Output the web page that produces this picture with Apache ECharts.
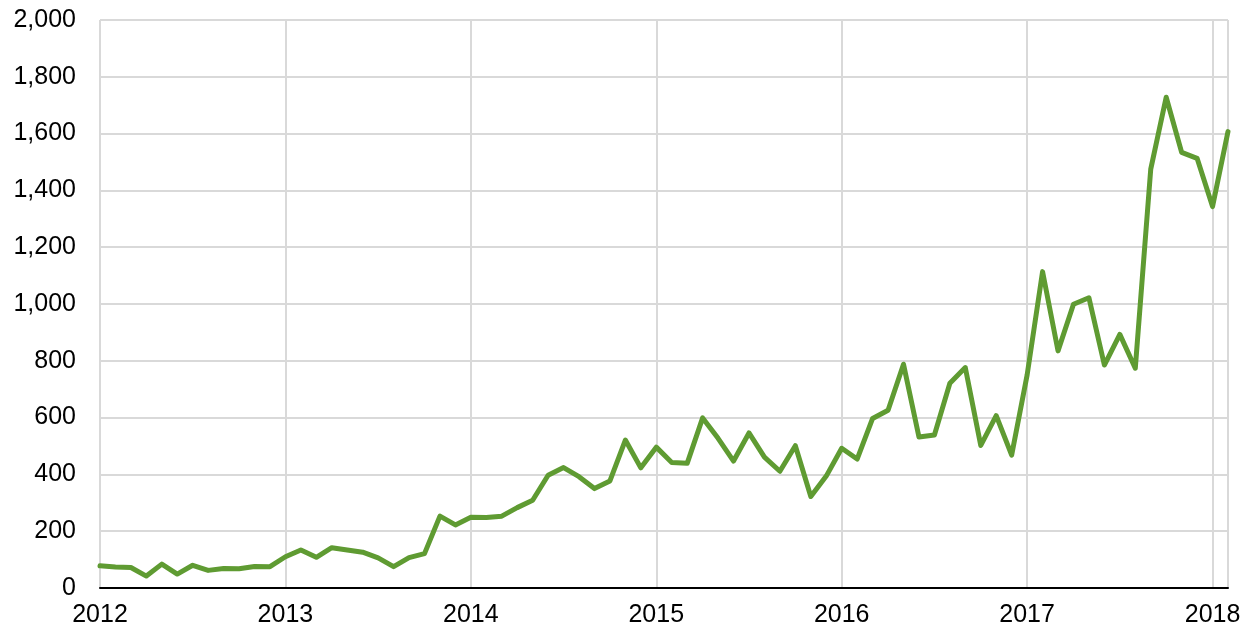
<!DOCTYPE html>
<html>
<head>
<meta charset="utf-8">
<script src="https://cdn.jsdelivr.net/npm/echarts@6.0.0/dist/echarts.min.js"></script>
<style>
  html, body { margin: 0; padding: 0; background: #fff; }
  #chart { width: 1245px; height: 631px; }
</style>
</head>
<body>
<div id="chart"></div>
<script>
// monthly values, Jan 2012 .. Feb 2018
const startYear = 2012;
const values2012 = [78, 74, 72, 42, 84, 49, 80, 62, 69, 68, 76, 75];
const values2013 = [110, 134, 108, 142, 134, 126, 106, 75, 107, 121, 253, 222];
const values2014 = [249, 248, 253, 283, 309, 397, 424, 392, 350, 377, 521, 423];
const values2015 = [496, 442, 439, 599, 527, 447, 546, 461, 411, 501, 322, 394];
const values2016 = [492, 454, 597, 626, 788, 532, 539, 721, 776, 502, 607, 468];
const values2017 = [750, 1114, 835, 999, 1022, 785, 893, 774, 1475, 1728, 1534, 1513];
const values2018 = [1343, 1607];

const yTicks = [0, 200, 400, 600, 800, 1000, 1200, 1400, 1600, 1800, 2000];

const allValues = [].concat(values2012, values2013, values2014, values2015,
  values2016, values2017, values2018);
const seriesData = allValues.map((v, i) => [startYear + i / 12, v]);

const chart = echarts.init(document.getElementById("chart"));
const font = "Liberation Sans, Arial, sans-serif";

chart.setOption({
  animation: false,
  backgroundColor: "#fff",
  grid: { left: 100, right: 17, top: 20, bottom: 43, containLabel: false },
  xAxis: {
    type: "value",
    min: startYear,
    max: startYear + (allValues.length - 1) / 12,
    interval: 1,
    axisLine: { show: true, onZero: false, lineStyle: { color: "#000", width: 2 } },
    axisTick: { show: false },
    splitLine: { show: true, lineStyle: { color: "#d9d9d9", width: 2 } },
    axisLabel: {
      color: "#000",
      fontSize: 25,
      fontFamily: font,
      margin: 15,
      showMaxLabel: false,
      formatter: (v) => String(Math.round(v)),
    },
  },
  yAxis: {
    type: "value",
    min: yTicks[0],
    max: yTicks[yTicks.length - 1],
    interval: 200,
    axisLine: { show: false },
    axisTick: { show: false },
    splitLine: { show: true, lineStyle: { color: "#d9d9d9", width: 2 } },
    axisLabel: {
      color: "#000",
      fontSize: 25,
      fontFamily: font,
      margin: 24,
      formatter: (v) => v.toLocaleString("en-US"),
    },
  },
  series: [
    {
      type: "line",
      data: seriesData,
      showSymbol: false,
      symbol: "none",
      lineStyle: { color: "#5f9b32", width: 5, join: "round", cap: "round" },
    },
  ],
});
</script>
</body>
</html>
